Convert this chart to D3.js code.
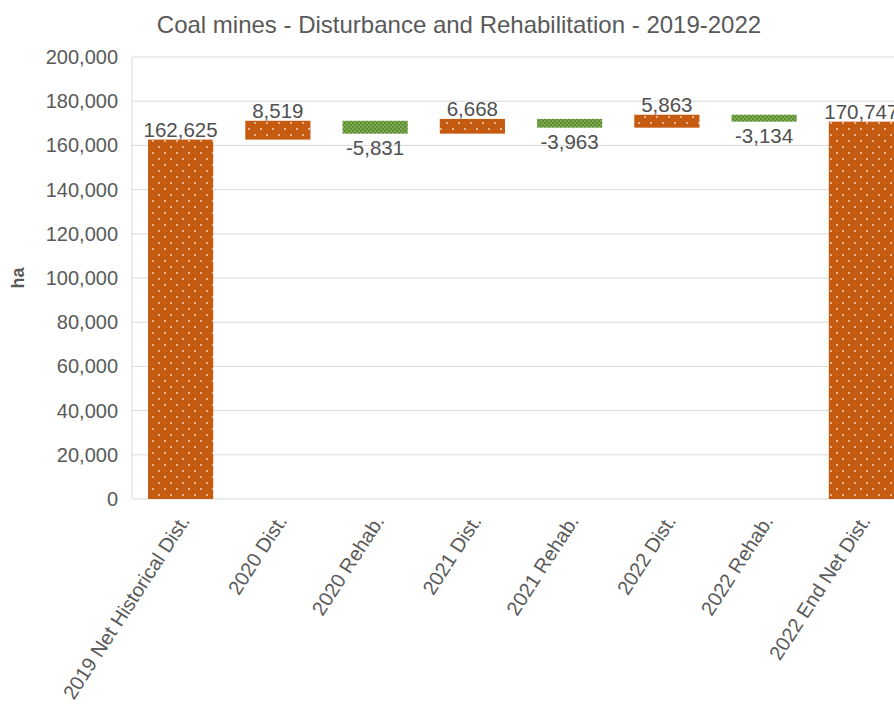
<!DOCTYPE html>
<html>
<head>
<meta charset="utf-8">
<script src="https://cdn.jsdelivr.net/npm/d3@7"></script>
<style>
  body { margin: 0; background: #fff; }
  svg { display: block; font-family: "Liberation Sans", Arial, sans-serif; }
</style>
</head>
<body>
<svg id="chart" width="894" height="710"></svg>
<script>
const categories = [
  "2019 Net Historical Dist.", "2020 Dist.", "2020 Rehab.", "2021 Dist.",
  "2021 Rehab.", "2022 Dist.", "2022 Rehab.", "2022 End Net Dist."
];
const values = [162625, 8519, -5831, 6668, -3963, 5863, -3134, 170747];
const kinds = ["total", "dist", "rehab", "dist", "rehab", "dist", "rehab", "total"];
const yTicks = [0, 20000, 40000, 60000, 80000, 100000, 120000, 140000, 160000, 180000, 200000];

const margin = { top: 57, right: -16, bottom: 211, left: 132 };
const width = 894 - margin.left - margin.right;
const height = 710 - margin.top - margin.bottom;

const fmt = d3.formatLocale({ decimal: ".", thousands: ",", grouping: [3], currency: ["", ""], minus: "-" }).format(",");

// running totals -> floating bars
let run = 0;
const bars = values.map((v, i) => {
  let y0, y1;
  if (kinds[i] === "total") { y0 = 0; y1 = v; run = v; }
  else { y0 = run; y1 = run + v; run = y1; }
  return { cat: categories[i], value: v, kind: kinds[i], lo: Math.min(y0, y1), hi: Math.max(y0, y1) };
});

const svg = d3.select("#chart");

const defs = svg.append("defs");
const orange = defs.append("pattern")
  .attr("id", "dotsOrange").attr("patternUnits", "userSpaceOnUse")
  .attr("width", 12).attr("height", 12);
orange.append("rect").attr("width", 12).attr("height", 12).attr("fill", "#c55a11");
orange.append("circle").attr("cx", 3).attr("cy", 3).attr("r", 0.9).attr("fill", "#f6dcc8");
orange.append("circle").attr("cx", 9).attr("cy", 9).attr("r", 0.9).attr("fill", "#f6dcc8");

const green = defs.append("pattern")
  .attr("id", "dotsGreen").attr("patternUnits", "userSpaceOnUse")
  .attr("width", 4).attr("height", 4);
green.append("rect").attr("width", 4).attr("height", 4).attr("fill", "#5b8f2e");
green.append("circle").attr("cx", 1).attr("cy", 1).attr("r", 0.75).attr("fill", "#b5d69a");
green.append("circle").attr("cx", 3).attr("cy", 3).attr("r", 0.75).attr("fill", "#b5d69a");

const x = d3.scaleBand()
  .domain(categories)
  .range([margin.left, margin.left + width])
  .paddingInner(0.33)
  .paddingOuter(0.165);

const y = d3.scaleLinear()
  .domain([0, 200000])
  .range([margin.top + height, margin.top]);

// gridlines
svg.append("g")
  .selectAll("line")
  .data(yTicks)
  .enter().append("line")
  .attr("x1", margin.left).attr("x2", margin.left + width)
  .attr("y1", d => y(d)).attr("y2", d => y(d))
  .attr("stroke", "#d9d9d9").attr("stroke-width", 1);

svg.append("line")
  .attr("x1", margin.left).attr("x2", margin.left)
  .attr("y1", y(0)).attr("y2", y(200000))
  .attr("stroke", "#d9d9d9");

// y axis labels
const yAxis = svg.append("g")
  .attr("transform", `translate(${margin.left},0)`)
  .call(d3.axisLeft(y).tickValues(yTicks).tickFormat(fmt).tickSize(0).tickPadding(14));
yAxis.select(".domain").remove();
yAxis.selectAll("text")
  .attr("fill", "#595959").style("font-size", "20px")
  .style("font-family", "Liberation Sans, Arial, sans-serif");

// bars
svg.append("g")
  .selectAll("rect")
  .data(bars)
  .enter().append("rect")
  .attr("x", d => x(d.cat))
  .attr("width", x.bandwidth())
  .attr("y", d => y(d.hi))
  .attr("height", d => y(d.lo) - y(d.hi))
  .attr("fill", d => d.kind === "rehab" ? "url(#dotsGreen)" : "url(#dotsOrange)");

// data labels
svg.append("g")
  .selectAll("text")
  .data(bars)
  .enter().append("text")
  .attr("x", d => x(d.cat) + x.bandwidth() / 2)
  .attr("y", d => d.value < 0 ? y(d.lo) + 6 : y(d.hi) - 3)
  .attr("dy", d => d.value < 0 ? "0.75em" : "0")
  .attr("text-anchor", "middle")
  .attr("fill", "#505050")
  .style("font-size", "20.5px")
  .text(d => fmt(d.value));

// x axis labels
svg.append("g")
  .selectAll("text")
  .data(categories)
  .enter().append("text")
  .attr("transform", d => `translate(${x(d) + x.bandwidth() / 2 + 4},517) rotate(-57)`)
  .attr("text-anchor", "end")
  .attr("dy", "0.35em")
  .attr("fill", "#595959")
  .style("font-size", "20px")
  .text(d => d);

// title
svg.append("text")
  .attr("x", 459).attr("y", 33)
  .attr("text-anchor", "middle")
  .attr("fill", "#595959")
  .style("font-size", "24px")
  .text("Coal mines - Disturbance and Rehabilitation - 2019-2022");

// y axis title
svg.append("text")
  .attr("transform", `translate(24,${y(100000)}) rotate(-90)`)
  .attr("text-anchor", "middle")
  .attr("fill", "#595959")
  .style("font-size", "18px")
  .style("font-weight", "bold")
  .text("ha");
</script>
</body>
</html>
